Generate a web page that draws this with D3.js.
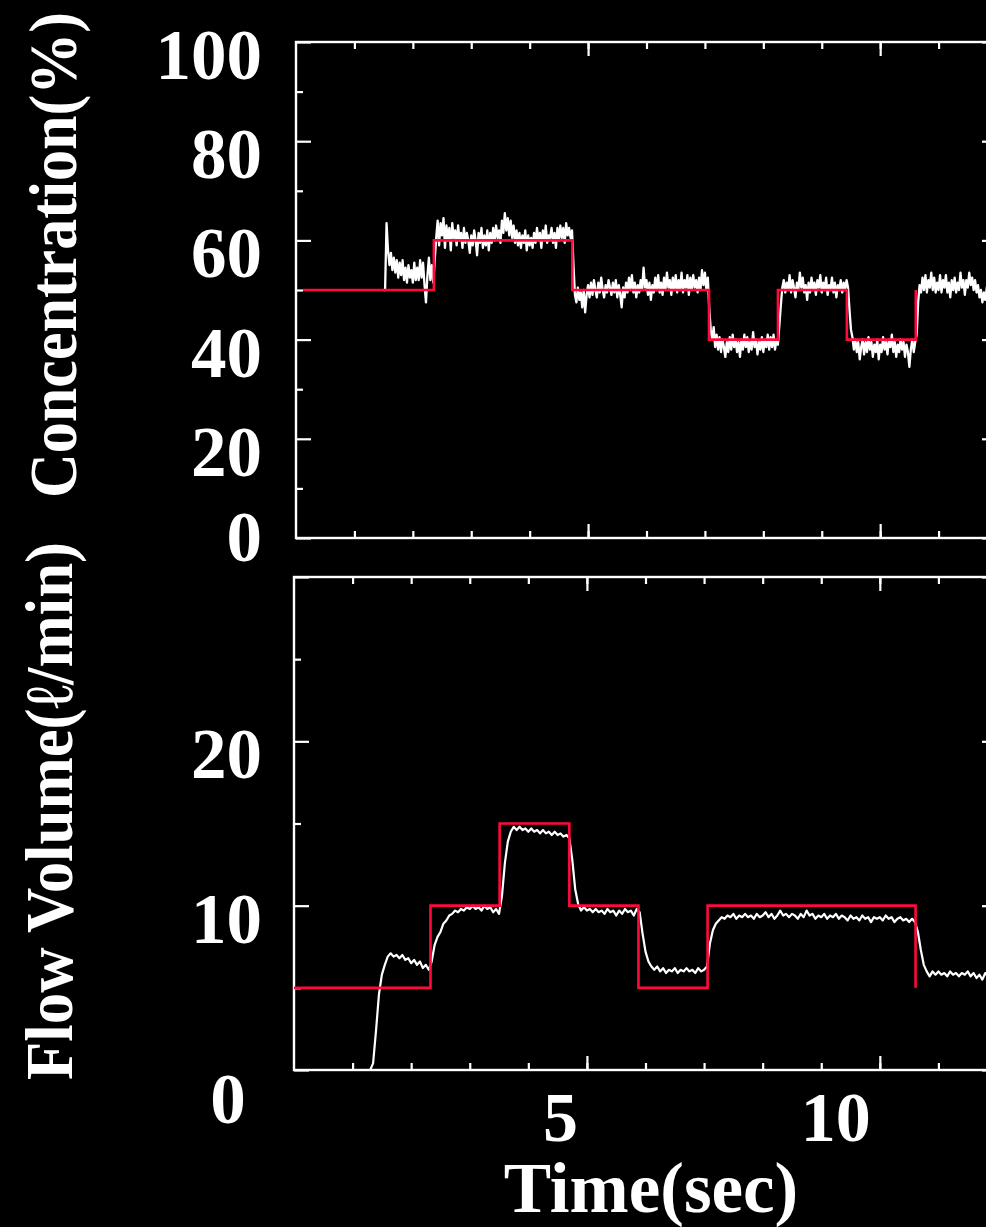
<!DOCTYPE html>
<html>
<head>
<meta charset="utf-8">
<script src="https://cdnjs.cloudflare.com/ajax/libs/d3/7.8.5/d3.min.js"></script>
<style>
  body { margin: 0; background: #000; }
  svg { display: block; }
  text { font-family: 'Liberation Serif', 'Times New Roman', serif; font-weight: bold; fill: #fff; }
</style>
</head>
<body>
<svg id="chart" width="986" height="1227"></svg>
<script>
const W = 986, H = 1227;
const red = '#ff0a3c';

// measured concentration (%), sampled every 0.025 s; one run per setpoint level
const concStep = 0.025;
const concRunStart = [1.5, 2.375, 4.75, 7.1, 8.3, 9.475, 10.65];
const concRuns = [
  [50, 50, 63.5, 58, 55, 57.5, 54, 56.5, 53.5, 56, 52.5, 55.5, 53, 56, 52, 54.5, 51.5, 55,
   52.5, 54, 51.5, 55.5, 52, 54.5, 52, 56, 52.5, 55.5, 51, 47.5, 53, 56.5, 52, 55, 51.5],
  [56, 60.5, 64, 59, 63.5, 61, 64.5, 58.5, 63, 60, 62.5, 58, 63.5, 60.5, 62, 59, 63, 60,
   61.5, 58.5, 62.5, 59.5, 61.5, 60, 57.5, 61, 59, 62, 60, 57, 61.5, 59.5, 62.5, 58.5, 61, 59,
   62, 58, 61.5, 59.5, 62.5, 60, 63, 60.5, 62, 59.5, 64, 61.5, 65.5, 62, 64.5, 61, 64, 60.5,
   63, 59.5, 62, 59, 61.5, 58.5, 61, 59.5, 62, 58, 61, 59, 60.5, 58.5, 61.5, 59.5, 62.5, 60,
   61.5, 58.5, 62, 60, 63, 59.5, 61, 60.5, 62.5, 59.5, 61.5, 58.5, 62.5, 60, 63, 60.5, 62.5,
   59.5, 63.5, 61, 62.5, 60.5, 62],
  [55, 49, 47.5, 50.5, 48, 49.5, 46.5, 50, 45.5, 49, 51, 48.5, 51.5, 49, 52, 50, 48.5, 51.5,
   49.5, 52.5, 50, 48.5, 51, 49.5, 52, 50.5, 49, 51.5, 49.5, 52, 48.5, 51, 49, 46.5, 50.5,
   48.5, 51.5, 49.5, 52.5, 50, 53, 49.5, 51.5, 48.5, 51, 49.5, 52, 50, 54.5, 50.5, 52, 49,
   51.5, 48, 51, 49.5, 52.5, 50, 53, 49.5, 51.5, 49, 52.5, 50, 53.5, 50.5, 52, 49, 52.5, 50,
   53, 49.5, 52, 50, 53.5, 49.5, 52, 50.5, 53, 49, 52.5, 50, 53, 50.5, 52, 49.5, 52.5, 50,
   54, 51, 53.5, 50, 52.5, 46],
  [42, 40, 42.5, 38.5, 41, 38, 40.5, 37.5, 40, 38.5, 36.5, 39.5, 37.5, 40.5, 38, 41, 38.5,
   40, 37.5, 39.5, 36.5, 40, 38, 41, 38.5, 40.5, 37.5, 39.5, 38, 41.5, 38.5, 40, 37, 39.5, 38,
   40.5, 37.5, 40, 38.5, 41, 38, 40.5, 38.5, 41, 38, 40, 39, 43],
  [47, 50.5, 52, 49.5, 51.5, 50, 53, 49.5, 52, 50.5, 48.5, 51.5, 50, 53.5, 50.5, 52.5, 49.5,
   51, 48, 51.5, 49.5, 52.5, 50, 51.5, 49, 52, 50.5, 53, 49.5, 51.5, 50, 52.5, 49, 51, 50,
   52.5, 49.5, 51.5, 48.5, 51, 50, 52, 49.5, 51.5, 50, 52, 50.5],
  [46, 42, 40.5, 38, 40, 37.5, 39.5, 36, 38.5, 40, 37, 39.5, 37.5, 40.5, 38, 39.5, 36.5, 39,
   37.5, 40, 36, 39, 37.5, 40.5, 38, 39.5, 37, 40, 38.5, 41, 37.5, 39.5, 36.5, 39, 37.5, 40,
   38, 39.5, 36.5, 39, 37.5, 34.5, 38, 40, 37.5, 39.5, 41],
  [47.5, 51, 49.5, 52.5, 50, 53, 49.5, 52, 50.5, 53.5, 50, 52.5, 49.5, 51.5, 50, 53, 49.5,
   52, 50.5, 53, 49.5, 51.5, 48.5, 52, 50, 52.5, 49.5, 51.5, 50, 53.5, 50.5, 52, 49, 52, 50.5,
   53.5, 51, 52.5, 50, 52, 49.5, 51, 48.5, 50, 47.5, 49.5, 48, 50.5, 49, 51, 49.5, 51, 50,
   50.5, 50]
];
// concentration setpoint: step times (s) and levels (%)
const concSetT = [0.12, 2.36, 4.73, 7.07, 8.25, 9.43, 10.61];
const concSetV = [50, 60, 50, 40, 50, 40, 50];

// measured flow volume (l/min), one sample every 0.05 s starting at 1.3 s
const flowStart = 1.3;
const flowStep = 0.05;
const flowVals = [
  0, 0.4, 2.4, 4.6, 5.8, 6.4, 6.9, 7.1, 6.9, 7.0, 6.8, 7.0, 6.7, 6.8, 6.5, 6.7, 6.4, 6.6, 6.2,
  6.4, 6.1, 6.6,
  7.6, 8.1, 8.4, 8.9, 9.1, 9.4, 9.5, 9.7, 9.6, 9.8, 9.7, 9.9, 9.8, 10.0, 9.8, 9.9, 9.7, 10.0,
  9.8, 9.9, 9.6, 9.8, 9.5,
  10.6, 12.6, 13.9, 14.5, 14.8, 14.6, 14.8, 14.6, 14.7, 14.5, 14.7, 14.5, 14.6, 14.4, 14.6,
  14.4, 14.5, 14.3, 14.5, 14.3, 14.4, 14.2, 14.3, 14.1,
  12.8, 11.0, 10.1, 9.7, 9.9, 9.7, 9.8, 9.6, 9.8, 9.6, 9.7, 9.5, 9.8, 9.6, 9.7, 9.4, 9.7, 9.5,
  9.8, 9.6, 9.7, 9.4, 9.8, 9.6,
  8.3, 7.2, 6.6, 6.3, 6.1, 6.3, 6.0, 6.2, 5.9, 6.1, 6.0, 6.2, 5.9, 6.1, 6.0, 6.2, 6.0, 6.1,
  5.9, 6.2, 6.0, 6.1, 6.3,
  7.7, 8.5, 8.9, 9.1, 9.3, 9.2, 9.4, 9.3, 9.5, 9.2, 9.4, 9.3, 9.5, 9.3, 9.4, 9.2, 9.5, 9.3,
  9.4, 9.6, 9.3, 9.5, 9.2, 9.4, 9.7, 9.4, 9.5, 9.3, 9.5, 9.4, 9.2, 9.5, 9.3, 9.7, 9.4, 9.5,
  9.2, 9.4, 9.3, 9.5, 9.2, 9.4, 9.3, 9.5, 9.2, 9.4, 9.3, 9.1, 9.4, 9.2, 9.3, 9.1, 9.4, 9.2,
  9.3, 9.0, 9.3, 9.2, 9.3, 9.1, 9.4, 9.2, 9.3, 9.0, 9.2, 9.3, 9.1, 9.2, 9.0, 9.2, 9.0,
  8.4, 7.3, 6.4, 6.0, 5.7, 6.0, 5.8, 6.0, 5.8, 5.9, 5.7, 6.0, 5.8, 5.9, 5.7, 5.9, 5.8, 6.0,
  5.7, 5.9, 5.6, 5.8, 5.5, 5.9, 5.7, 5.8, 5.7, 5.8
];
// flow setpoint: step times (s) and levels (l/min)
const flowSetT = [0, 2.33, 3.51, 4.70, 5.88, 7.06, 10.61];
const flowSetV = [5, 10, 15, 10, 5, 10, 5];

// tick labels
const concLabels = [0, 20, 40, 60, 80, 100];
const flowLabels = [0, 10, 20];
const timeLabels = [5, 10];

const svg = d3.select('#chart');
svg.append('rect').attr('width', W).attr('height', H).attr('fill', '#000');

const concPts = concRuns.flatMap((run, k) => run.map((v, i) => [concRunStart[k] + i * concStep, v]));
const flowPts = flowVals.map((v, i) => [flowStart + i * flowStep, v]);

const panels = [
  { id: 'conc', x: d3.scaleLinear([0, 12], [296, 997]), y: d3.scaleLinear([0, 100], [538, 42]),
    major: concLabels, minor: d3.range(10, 100, 20), pts: concPts, lw: 2.3,
    setT: concSetT, setV: concSetV },
  { id: 'flow', x: d3.scaleLinear([0, 12], [294, 997]), y: d3.scaleLinear([0, 30], [1070, 577]),
    major: [0, 10, 20, 30], minor: [5, 15, 25], pts: flowPts, lw: 2.2,
    setT: flowSetT, setV: flowSetV }
];

// draw one tick set, no domain line
tickSet = (g, axis, tr) => {
  g.append('g').attr('transform', tr).call(axis)
    .call(a => a.select('.domain').remove())
    .call(a => a.selectAll('line').attr('stroke', '#fff').attr('stroke-width', 2.2));
}

panels.forEach(p => {
  const [x0, x1] = p.x.range();
  const [y0, y1] = p.y.range();
  const g = svg.append('g');

  g.append('clipPath').attr('id', 'clip-' + p.id)
    .append('rect').attr('x', x0).attr('y', y1).attr('width', x1 - x0).attr('height', y0 - y1);

  // ticks: minor every second, major every 5 s
  const secs = d3.range(1, 12);
  [[secs, 7], [[5, 10], 14]].forEach(([vals, len]) => {
    tickSet(g, d3.axisBottom(p.x).tickValues(vals).tickSize(-len).tickFormat(''), `translate(0,${y0})`);
    tickSet(g, d3.axisTop(p.x).tickValues(vals).tickSize(-len).tickFormat(''), `translate(0,${y1})`);
  });
  [[p.minor, 7], [p.major, 15]].forEach(([vals, len]) => {
    tickSet(g, d3.axisLeft(p.y).tickValues(vals).tickSize(-len).tickFormat(''), `translate(${x0},0)`);
    tickSet(g, d3.axisRight(p.y).tickValues(vals).tickSize(-len).tickFormat(''), `translate(${x1},0)`);
  });

  g.append('rect')
    .attr('x', x0).attr('y', y1).attr('width', x1 - x0).attr('height', y0 - y1)
    .attr('fill', 'none').attr('stroke', '#fff').attr('stroke-width', 2.4);

  const plot = g.append('g').attr('clip-path', `url(#clip-${p.id})`);

  plot.append('path')
    .datum(p.pts)
    .attr('d', d3.line().x(d => p.x(d[0])).y(d => p.y(d[1])))
    .attr('fill', 'none').attr('stroke', '#fff').attr('stroke-width', p.lw)
    .attr('stroke-linejoin', 'round');

  const setPts = p.setT.map((t, i) => [t, p.setV[i]]);
  plot.append('path')
    .datum(setPts)
    .attr('d', d3.line().curve(d3.curveStepAfter).x(d => p.x(d[0])).y(d => p.y(d[1])))
    .attr('fill', 'none').attr('stroke', red).attr('stroke-width', 2.6);
});

// tick labels
const cy = panels[0].y, fy = panels[1].y, fx = panels[1].x;
svg.selectAll('text.cl').data(concLabels).join('text')
  .attr('class', 'cl')
  .attr('x', 262)
  .attr('y', d => d == 0 ? cy(d) + 23 : cy(d) + 37)
  .attr('text-anchor', 'end').attr('font-size', 71)
  .text(d => d);

svg.selectAll('text.fl').data(flowLabels).join('text')
  .attr('class', 'fl')
  .attr('x', d => d == 0 ? 228 : 262)
  .attr('y', d => d == 0 ? fy(d) + 53 : fy(d) + 37)
  .attr('text-anchor', d => d == 0 ? 'middle' : 'end').attr('font-size', 71)
  .text(d => d);

svg.selectAll('text.tl').data(timeLabels).join('text')
  .attr('class', 'tl')
  .attr('x', d => fx(d) - 9)
  .attr('y', 1141)
  .attr('text-anchor', 'end').attr('font-size', 70)
  .text(d => d);

// axis titles
svg.append('text')
  .attr('x', 651).attr('y', 1212)
  .attr('text-anchor', 'middle').attr('font-size', 71)
  .text('Time(sec)');

svg.append('text')
  .attr('transform', 'translate(76,255) rotate(-90)')
  .attr('text-anchor', 'middle').attr('font-size', 68)
  .attr('textLength', 486).attr('lengthAdjust', 'spacingAndGlyphs')
  .text('Concentration(%)');

svg.append('text')
  .attr('transform', 'translate(72,811) rotate(-90)')
  .attr('text-anchor', 'middle').attr('font-size', 68)
  .attr('textLength', 538).attr('lengthAdjust', 'spacingAndGlyphs')
  .text('Flow Volume(ℓ/min)');
</script>
</body>
</html>
